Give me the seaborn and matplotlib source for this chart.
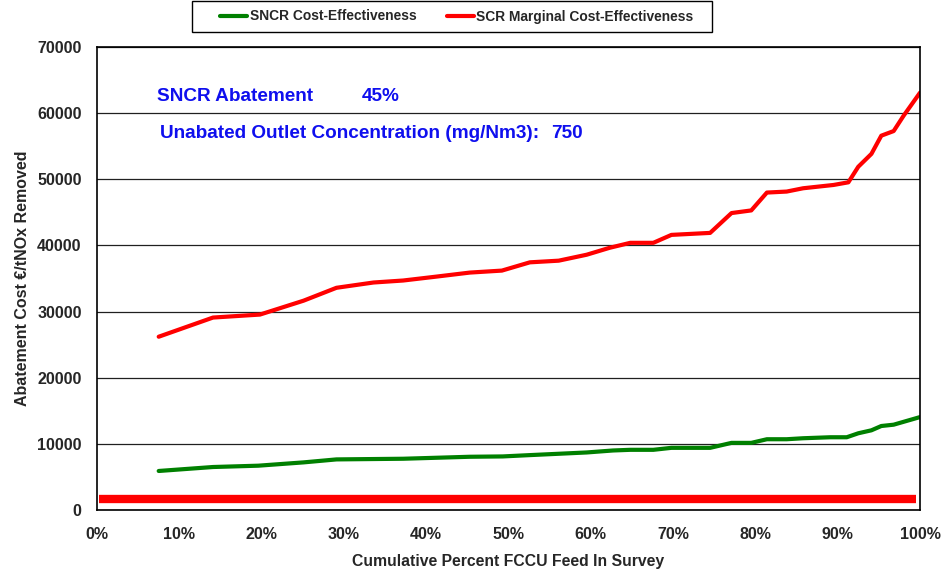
import matplotlib
matplotlib.use('Agg')
import matplotlib.pyplot as plt
from matplotlib.patches import Rectangle
import seaborn as sns
import pandas as pd
import numpy as np

# cumulative percent of FCCU feed (x) and cost-effectiveness values (EUR/t NOx)
scr_x = [7.5, 14.1, 19.8, 25.1, 29.1, 33.6, 37.2, 41.3, 45.3, 49.2, 52.6, 56.1, 59.5,
         62.3, 64.8, 67.6, 69.8, 74.5, 77.1, 79.5, 81.4, 83.8, 85.8, 89.5, 91.3,
         92.5, 94.1, 95.3, 96.8, 98.0, 100.0]
scr_y = [26200, 29100, 29550, 31650, 33600, 34400, 34700, 35300, 35900, 36200, 37450,
         37700, 38600, 39650, 40400, 40400, 41600, 41900, 44900, 45300, 48000, 48150,
         48650, 49150, 49550, 51900, 53850, 56600, 57300, 59600, 63100]

sncr_x = [7.5, 14.1, 19.6, 25.1, 29.1, 37.2, 45.3, 49.3, 52.6, 59.5, 62.7, 64.8, 67.6,
          69.8, 74.5, 77.1, 79.5, 81.4, 83.8, 85.8, 89.1, 91.1, 92.5, 94.1, 95.3,
          96.8, 100.0]
sncr_y = [5900, 6500, 6700, 7200, 7650, 7750, 8050, 8100, 8300, 8700, 9000, 9100, 9100,
          9400, 9400, 10150, 10150, 10700, 10700, 10850, 11000, 11000, 11600, 12050,
          12700, 12900, 14050]

baseline_x = [0.3, 99.5]
baseline_y = [1650, 1650]

x_ticks = [0, 10, 20, 30, 40, 50, 60, 70, 80, 90, 100]
x_ticklabels = ['0%', '10%', '20%', '30%', '40%', '50%', '60%', '70%', '80%', '90%', '100%']
y_ticks = [0, 10000, 20000, 30000, 40000, 50000, 60000, 70000]

sns.set_style('white')
plt.rcParams['font.family'] = ['Liberation Sans', 'DejaVu Sans']
plt.rcParams['font.weight'] = 'bold'

fig = plt.figure(figsize=(9.46, 5.74), dpi=100)
ax = fig.add_axes([0.1025, 0.1115, 0.870, 0.8065])

sncr_df = pd.DataFrame({'x': sncr_x, 'y': sncr_y})
scr_df = pd.DataFrame({'x': scr_x, 'y': scr_y})

sns.lineplot(data=sncr_df, x='x', y='y', ax=ax, color='#008000', lw=3,
             label='SNCR Cost-Effectiveness', sort=False)
sns.lineplot(data=scr_df, x='x', y='y', ax=ax, color='#FF0000', lw=3,
             label='SCR Marginal Cost-Effectiveness', sort=False)
sns.lineplot(x=baseline_x, y=baseline_y, ax=ax, color='#FF0000', lw=6,
             solid_capstyle='butt', legend=False)

ax.set_xlim(0, 100)
ax.set_ylim(0, 70000)
ax.set_xticks(x_ticks)
ax.set_xticklabels(x_ticklabels)
ax.set_yticks(y_ticks)
ax.yaxis.grid(True, color='#202020', lw=0.9)
ax.set_axisbelow(True)
for s in ax.spines.values():
    s.set_color('black')
    s.set_linewidth(1.2)
ax.tick_params(axis='x', labelsize=11.5, length=0, pad=12)
ax.tick_params(axis='y', labelsize=11.5, length=0, pad=11)
for lab in ax.get_xticklabels() + ax.get_yticklabels():
    lab.set_fontweight('bold')

ax.set_xlabel('Cumulative Percent FCCU Feed In Survey', fontsize=11.3,
              fontweight='bold', labelpad=9)
ax.set_ylabel('Abatement Cost €/tNOx Removed', fontsize=11.5,
              fontweight='bold', labelpad=5)

blue = '#0F0FEE'
ax.text(7.3, 62500, 'SNCR Abatement', color=blue, fontsize=13.7,
        fontweight='bold', va='center')
ax.text(32.2, 62500, '45%', color=blue, fontsize=13.7,
        fontweight='bold', va='center')
ax.text(7.6, 57000, 'Unabated Outlet Concentration (mg/Nm3):', color=blue,
        fontsize=13.7, fontweight='bold', va='center')
ax.text(55.2, 57000, '750', color=blue, fontsize=13.7,
        fontweight='bold', va='center')

# legend box drawn separately so its padding matches the original
fig.patches.append(Rectangle((192 / 946, 1 - 32 / 574), 520 / 946, 31 / 574,
                             transform=fig.transFigure, fill=False,
                             edgecolor='black', lw=1.0))
leg = ax.legend(loc='center', bbox_to_anchor=(457 / 946, 1 - 16.5 / 574),
                bbox_transform=fig.transFigure, ncol=2, frameon=False,
                fontsize=9.9, handlelength=1.95, handletextpad=0.2,
                columnspacing=2.2, borderpad=0.3)
for t in leg.get_texts():
    t.set_fontweight('bold')

fig.savefig('out.png', dpi=100)
